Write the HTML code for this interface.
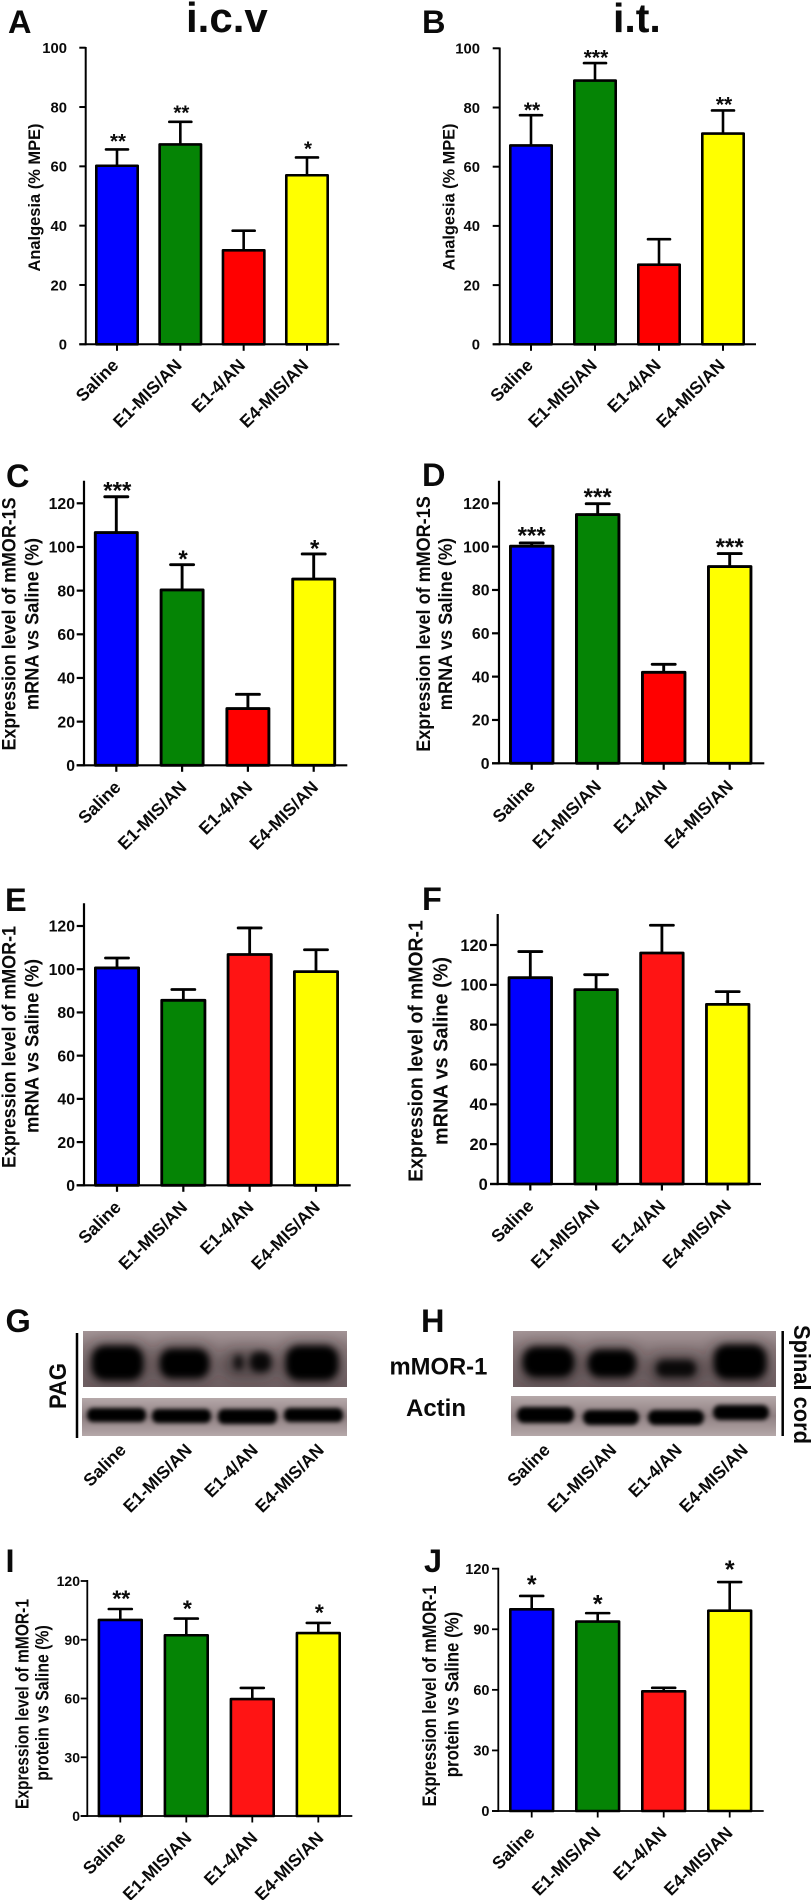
<!DOCTYPE html>
<html lang="en">
<head>
<meta charset="utf-8">
<title>Analgesia and mMOR-1 expression panels</title>
<style>
  html, body { margin: 0; padding: 0; background: #fff; }
  svg { display: block; }
  text { font-family: "Liberation Sans", sans-serif; font-weight: bold; fill: #0a0a0a; }
</style>
</head>
<body>
<svg id="figure" xmlns="http://www.w3.org/2000/svg" width="812" height="1900" viewBox="0 0 812 1900">
  <defs>
    <filter id="blur-top" x="-60%" y="-60%" width="220%" height="220%"><feGaussianBlur stdDeviation="3.5"/></filter>
    <filter id="blur-haze" x="-60%" y="-80%" width="220%" height="260%"><feGaussianBlur stdDeviation="7"/></filter>
    <filter id="blur-act" x="-30%" y="-100%" width="160%" height="300%"><feGaussianBlur stdDeviation="2"/></filter>
    <clipPath id="clip-g1"><rect x="83" y="1331" width="264" height="56"/></clipPath>
    <clipPath id="clip-g2"><rect x="82" y="1398" width="265" height="38"/></clipPath>
    <clipPath id="clip-h1"><rect x="513" y="1331" width="263" height="56"/></clipPath>
    <clipPath id="clip-h2"><rect x="511" y="1396" width="265" height="40"/></clipPath>
    <linearGradient id="blot-top-bg" x1="0" y1="0" x2="0" y2="1">
      <stop offset="0" stop-color="#a39496"/>
      <stop offset=".35" stop-color="#8a7a7c"/>
      <stop offset="1" stop-color="#6f6063"/>
    </linearGradient>
    <linearGradient id="blot-act-bg" x1="0" y1="0" x2="0" y2="1">
      <stop offset="0" stop-color="#b5a8a9"/>
      <stop offset=".5" stop-color="#8f8082"/>
      <stop offset="1" stop-color="#b5a8a9"/>
    </linearGradient>
  </defs>
  <rect width="812" height="1900" fill="#fff"/>

  <text x="186" y="32" font-size="42">i.c.v</text>
  <text x="613" y="32" font-size="41">i.t.</text>

  <text x="8" y="33" font-size="32.5">A</text>
  <text x="422" y="33" font-size="32.5">B</text>
  <text x="6" y="487" font-size="32.5">C</text>
  <text x="422" y="486" font-size="32.5">D</text>
  <text x="5" y="911" font-size="32.5">E</text>
  <text x="422" y="910" font-size="32.5">F</text>
  <text x="5.5" y="1332" font-size="32.5">G</text>
  <text x="421" y="1332" font-size="32.5">H</text>
  <text x="5.5" y="1572" font-size="32.5">I</text>
  <text x="424" y="1572" font-size="32.5">J</text>

  <g text-anchor="middle">
    <text transform="translate(40 197.5) rotate(-90)" font-size="17" textLength="148" lengthAdjust="spacingAndGlyphs">Analgesia (% MPE)</text>
    <text transform="translate(454.3 197) rotate(-90)" font-size="17" textLength="147" lengthAdjust="spacingAndGlyphs">Analgesia (% MPE)</text>
    <text transform="translate(15.3 624) rotate(-90)" font-size="19.5" textLength="253" lengthAdjust="spacingAndGlyphs">Expression level of mMOR-1S</text>
    <text transform="translate(38.3 624) rotate(-90)" font-size="19.5" textLength="172" lengthAdjust="spacingAndGlyphs">mRNA vs Saline (%)</text>
    <text transform="translate(430 624) rotate(-90)" font-size="19.5" textLength="255.5" lengthAdjust="spacingAndGlyphs">Expression level of mMOR-1S</text>
    <text transform="translate(452 624) rotate(-90)" font-size="19.5" textLength="172.5" lengthAdjust="spacingAndGlyphs">mRNA vs Saline (%)</text>
    <text transform="translate(15.3 1047) rotate(-90)" font-size="19.5" textLength="242" lengthAdjust="spacingAndGlyphs">Expression level of mMOR-1</text>
    <text transform="translate(38.3 1046) rotate(-90)" font-size="19.5" textLength="174" lengthAdjust="spacingAndGlyphs">mRNA vs Saline (%)</text>
    <text transform="translate(422.7 1051) rotate(-90)" font-size="20.3" textLength="261.5" lengthAdjust="spacingAndGlyphs">Expression level of mMOR-1</text>
    <text transform="translate(447.7 1051) rotate(-90)" font-size="20.3" textLength="188" lengthAdjust="spacingAndGlyphs">mRNA vs Saline (%)</text>
    <text transform="translate(28.3 1704) rotate(-90)" font-size="18" textLength="210" lengthAdjust="spacingAndGlyphs">Expression level of mMOR-1</text>
    <text transform="translate(48.3 1703) rotate(-90)" font-size="18" textLength="155.5" lengthAdjust="spacingAndGlyphs">protein vs Saline (%)</text>
    <text transform="translate(436 1696) rotate(-90)" font-size="19" textLength="221" lengthAdjust="spacingAndGlyphs">Expression level of mMOR-1</text>
    <text transform="translate(458.3 1694.5) rotate(-90)" font-size="19" textLength="165.5" lengthAdjust="spacingAndGlyphs">protein vs Saline (%)</text>
  </g>

  <g id="panel-a"></g>
  <g id="panel-b"></g>
  <g id="panel-c"></g>
  <g id="panel-d"></g>
  <g id="panel-e"></g>
  <g id="panel-f"></g>
  <g id="panel-i"></g>
  <g id="panel-j"></g>

  <g>
    <rect x="83" y="1331" width="264" height="56" fill="url(#blot-top-bg)"/>
    <g clip-path="url(#clip-g1)">
      <g fill="#1a1214" opacity=".45" filter="url(#blur-haze)">
        <rect x="88" y="1342" width="60" height="42" rx="14"/>
        <rect x="155" y="1344" width="58" height="38" rx="14"/>
        <rect x="222" y="1350" width="54" height="28" rx="12"/>
        <rect x="282" y="1342" width="60" height="42" rx="14"/>
      </g>
      <g fill="#040203" filter="url(#blur-top)">
        <rect x="92" y="1346" width="51" height="34" rx="13"/>
        <rect x="160" y="1349" width="49" height="29" rx="12"/>
        <rect x="234" y="1355" width="9" height="15" rx="4" opacity=".8"/>
        <rect x="250" y="1352" width="21" height="20" rx="8" opacity=".9"/>
        <rect x="286" y="1346" width="52" height="34" rx="13"/>
      </g>
    </g>
    <rect x="82" y="1398" width="265" height="38" fill="url(#blot-act-bg)"/>
    <g clip-path="url(#clip-g2)" fill="#020102" filter="url(#blur-act)">
      <rect x="87" y="1408" width="59" height="14" rx="6"/>
      <rect x="152" y="1409" width="59" height="14" rx="6"/>
      <rect x="218" y="1409" width="59" height="15" rx="6"/>
      <rect x="284" y="1408" width="59" height="14" rx="6"/>
    </g>
    <line x1="77" y1="1333" x2="77" y2="1438" stroke="#000" stroke-width="2.5"/>
    <text transform="translate(66 1386) rotate(-90)" text-anchor="middle" font-size="24" textLength="46" lengthAdjust="spacingAndGlyphs">PAG</text>
    <g font-size="17.5" text-anchor="end">
      <text transform="translate(127 1451) rotate(-45)">Saline</text>
      <text transform="translate(193 1451) rotate(-45)">E1-MIS/AN</text>
      <text transform="translate(259 1451) rotate(-45)">E1-4/AN</text>
      <text transform="translate(325 1451) rotate(-45)">E4-MIS/AN</text>
    </g>
  </g>

  <text x="389.5" y="1374.5" font-size="23.8">mMOR-1</text>
  <text x="406" y="1416" font-size="24">Actin</text>

  <g>
    <rect x="513" y="1331" width="263" height="56" fill="url(#blot-top-bg)"/>
    <g clip-path="url(#clip-h1)">
      <g fill="#1a1214" opacity=".45" filter="url(#blur-haze)">
        <rect x="519" y="1344" width="60" height="40" rx="14"/>
        <rect x="584" y="1346" width="56" height="36" rx="14"/>
        <rect x="648" y="1354" width="56" height="30" rx="12"/>
        <rect x="710" y="1342" width="60" height="42" rx="14"/>
      </g>
      <g fill="#040203" filter="url(#blur-top)">
        <rect x="523" y="1347" width="51" height="30" rx="13"/>
        <rect x="588" y="1350" width="48" height="27" rx="12"/>
        <rect x="656" y="1360" width="40" height="17" rx="8" opacity=".88"/>
        <rect x="714" y="1345" width="52" height="34" rx="13"/>
      </g>
    </g>
    <rect x="511" y="1396" width="265" height="40" fill="url(#blot-act-bg)"/>
    <g clip-path="url(#clip-h2)" fill="#020102" filter="url(#blur-act)">
      <rect x="517" y="1407" width="57" height="16" rx="7"/>
      <rect x="583" y="1410" width="56" height="15" rx="7"/>
      <rect x="648" y="1410" width="56" height="15" rx="7"/>
      <rect x="713" y="1405" width="56" height="15" rx="7"/>
    </g>
    <line x1="782.7" y1="1331" x2="782.7" y2="1436" stroke="#000" stroke-width="2.5"/>
    <text transform="translate(794 1384.5) rotate(90)" text-anchor="middle" font-size="23" textLength="119" lengthAdjust="spacingAndGlyphs">Spinal cord</text>
    <g font-size="17.5" text-anchor="end">
      <text transform="translate(551 1451) rotate(-45)">Saline</text>
      <text transform="translate(617.5 1451) rotate(-45)">E1-MIS/AN</text>
      <text transform="translate(683 1451) rotate(-45)">E1-4/AN</text>
      <text transform="translate(749 1451) rotate(-45)">E4-MIS/AN</text>
    </g>
  </g>
</svg>

<script>
// Chart data
const categories = ['Saline', 'E1-MIS/AN', 'E1-4/AN', 'E4-MIS/AN'];
const ticksTo100 = [0, 20, 40, 60, 80, 100];
const ticksTo120 = [0, 20, 40, 60, 80, 100, 120];
const ticksBy30 = [0, 30, 60, 90, 120];

const meansA = [60.2, 67.4, 31.7, 57];
const errorsA = [5.5, 7.6, 6.6, 6];
const starsA = ['**', '**', '', '*'];

const meansB = [67.2, 89.1, 26.9, 71.2];
const errorsB = [10.2, 5.9, 8.6, 7.8];
const starsB = ['**', '***', '', '**'];

const meansC = [106.6, 80.3, 26, 85.3];
const errorsC = [16.4, 11.6, 6.5, 11.5];
const starsC = ['***', '*', '', '*'];

const meansD = [100.2, 114.8, 42, 90.8];
const errorsD = [1.5, 5, 3.7, 6];
const starsD = ['***', '***', '', '***'];

const meansE = [100.6, 85.6, 106.8, 98.9];
const errorsE = [4.6, 5, 12.3, 10.1];
const starsE = ['', '', '', ''];

const meansF = [103.6, 97.6, 116, 90.2];
const errorsF = [13.1, 7.5, 13.9, 6.4];
const starsF = ['', '', '', ''];

const meansI = [100.1, 92.3, 59.7, 93.4];
const errorsI = [5.6, 8.5, 5.7, 5.2];
const starsI = ['**', '*', '', '*'];

const meansJ = [99.9, 93.8, 59.3, 99.2];
const errorsJ = [6.6, 4.2, 1.7, 14.2];
const starsJ = ['*', '*', '', '*'];

const NS = 'http://www.w3.org/2000/svg';

function mk(parent, tag, attrs, content) {
  const el = document.createElementNS(NS, tag);
  for (const key in attrs) el.setAttribute(key, attrs[key]);
  if (content !== undefined) el.textContent = content;
  parent.appendChild(el);
  return el;
}

function drawPanel(p) {
  const root = document.getElementById(p.id);
  const tickMax = p.ticks[p.ticks.length - 1];
  const yScale = function (v) { return p.y0 + (p.yTopTick - p.y0) * v / tickMax; };
  const xScale = function (i) { return p.x0 + p.step * i; };
  const fills = ['#0000ff', '#058405', p.red, '#ffff00'];

  categories.forEach(function (cat, i) {
    const cx = xScale(i);
    const top = yScale(p.means[i]);
    const errTop = yScale(p.means[i] + p.errors[i]);

    const stem = mk(root, 'line', { x1: cx, x2: cx, y1: top, y2: errTop, stroke: '#000', 'stroke-width': p.bw });
    
    

    const cap = mk(root, 'line', { x1: cx - p.cap / 2, x2: cx + p.cap / 2, y1: errTop, y2: errTop, stroke: '#000', 'stroke-width': p.bw, 'stroke-linecap': 'round' });
    
    

    const bar = mk(root, 'rect', { x: cx - p.barW / 2, y: top, width: p.barW, height: p.y0 - top, fill: fills[i], stroke: '#000', 'stroke-width': p.bw, 'stroke-linejoin': 'round' });
    
    

    if (p.stars[i]) {
      const star = mk(root, 'text', { x: cx + p.starDx, y: errTop - p.starGaps[i] + p.starSize * 0.55, 'font-size': p.starSize, 'text-anchor': 'middle' }, p.stars[i]);
      
      
    }

    const tick = mk(root, 'line', { x1: cx, x2: cx, y1: p.y0, y2: p.y0 + 6.5, stroke: '#000', 'stroke-width': p.axisW });
    
    

    const lx = cx + p.labelDx;
    const ly = p.y0 + p.labelDy;
    const label = mk(root, 'text', { transform: 'translate(' + lx + ' ' + ly + ') rotate(-45)', 'font-size': 17.5, 'text-anchor': 'end' }, cat);
    
    
  });

  p.ticks.forEach(function (t) {
    const y = yScale(t);
    const tick = mk(root, 'line', { x1: p.xLeft, x2: p.axisX, y1: y, y2: y, stroke: '#000', 'stroke-width': p.axisW });
    
    

    const label = mk(root, 'text', { x: p.labelRight, y: y + p.tickSize * 0.36, 'font-size': p.tickSize, 'text-anchor': 'end' }, String(t));
    
    
  });

  const yAxis = mk(root, 'line', { x1: p.axisX, x2: p.axisX, y1: p.axisTop, y2: p.y0 + p.axisW / 2, stroke: '#000', 'stroke-width': p.axisW });
  
  

  const xAxis = mk(root, 'line', { x1: p.xLeft, x2: p.xRight, y1: p.y0, y2: p.y0, stroke: '#000', 'stroke-width': p.axisW });
  
  
}

const panels = [
  { id: 'panel-a', means: meansA, errors: errorsA, stars: starsA, ticks: ticksTo100, y0: 344.3, yTopTick: 47.7, axisTop: 47, axisX: 85.7, xLeft: 79.3, xRight: 339.3, x0: 117, step: 63.33, barW: 41.4, cap: 22, bw: 2.6, axisW: 2, red: '#ff0000', tickSize: 14.8, labelRight: 67, starSize: 20.5, starDx: 1, starGaps: [12.6, 13.7, 0, 13.3], labelDx: 2.5, labelDy: 22 },
  { id: 'panel-b', means: meansB, errors: errorsB, stars: starsB, ticks: ticksTo100, y0: 344.3, yTopTick: 48.3, axisTop: 47.5, axisX: 499.7, xLeft: 492.7, xRight: 756, x0: 531, step: 64, barW: 41.4, cap: 22, bw: 2.6, axisW: 2, red: '#ff0000', tickSize: 14.8, labelRight: 480, starSize: 21, starDx: 1, starGaps: [9.7, 10.3, 0, 10.3], labelDx: 3, labelDy: 22 },
  { id: 'panel-c', means: meansC, errors: errorsC, stars: starsC, ticks: ticksTo120, y0: 765.3, yTopTick: 503.3, axisTop: 480.7, axisX: 84, xLeft: 76.7, xRight: 347.3, x0: 116.3, step: 65.8, barW: 42, cap: 23, bw: 2.9, axisW: 2.2, red: '#ff0000', tickSize: 15.8, labelRight: 75, starSize: 24, starDx: 1, starGaps: [11.7, 11, 0, 10.7], labelDx: 5.5, labelDy: 23 },
  { id: 'panel-d', means: meansD, errors: errorsD, stars: starsD, ticks: ticksTo120, y0: 763.3, yTopTick: 503.3, axisTop: 480.7, axisX: 499, xLeft: 492, xRight: 764.3, x0: 531.7, step: 66, barW: 42.5, cap: 23, bw: 2.9, axisW: 2.2, red: '#ff0000', tickSize: 15.8, labelRight: 489.5, starSize: 24, starDx: 0, starGaps: [12.7, 12, 0, 12], labelDx: 4.5, labelDy: 24 },
  { id: 'panel-e', means: meansE, errors: errorsE, stars: starsE, ticks: ticksTo120, y0: 1185.3, yTopTick: 926, axisTop: 903.3, axisX: 84, xLeft: 76.7, xRight: 350.7, x0: 117, step: 66.33, barW: 43.2, cap: 23, bw: 2.8, axisW: 2.2, red: '#ff1414', tickSize: 15.8, labelRight: 75, starSize: 24, starDx: 0, starGaps: [0, 0, 0, 0], labelDx: 5, labelDy: 23 },
  { id: 'panel-f', means: meansF, errors: errorsF, stars: starsF, ticks: ticksTo120, y0: 1184, yTopTick: 945, axisTop: 914, axisX: 497.7, xLeft: 490, xRight: 761, x0: 530.3, step: 65.8, barW: 42.5, cap: 23, bw: 2.8, axisW: 2.2, red: '#ff1414', tickSize: 16.4, labelRight: 487.7, starSize: 24, starDx: 0, starGaps: [0, 0, 0, 0], labelDx: 4.5, labelDy: 23 },
  { id: 'panel-i', means: meansI, errors: errorsI, stars: starsI, ticks: ticksBy30, y0: 1816, yTopTick: 1581, axisTop: 1580, axisX: 87.3, xLeft: 80.7, xRight: 352.3, x0: 120.3, step: 66, barW: 42.8, cap: 23, bw: 2.6, axisW: 1.8, red: '#ff1414', tickSize: 14, labelRight: 80, starSize: 23, starDx: 1, starGaps: [15, 15, 0, 15], labelDx: 6.3, labelDy: 23 },
  { id: 'panel-j', means: meansJ, errors: errorsJ, stars: starsJ, ticks: ticksBy30, y0: 1811, yTopTick: 1568.7, axisTop: 1567.7, axisX: 498.3, xLeft: 492, xRight: 763.7, x0: 531.7, step: 66, barW: 42.8, cap: 23, bw: 2.6, axisW: 1.8, red: '#ff1414', tickSize: 14.5, labelRight: 489.5, starSize: 25, starDx: 0, starGaps: [16.7, 14.3, 0, 18], labelDx: 4, labelDy: 23 }
];

panels.forEach(drawPanel);
</script>
</body>
</html>
